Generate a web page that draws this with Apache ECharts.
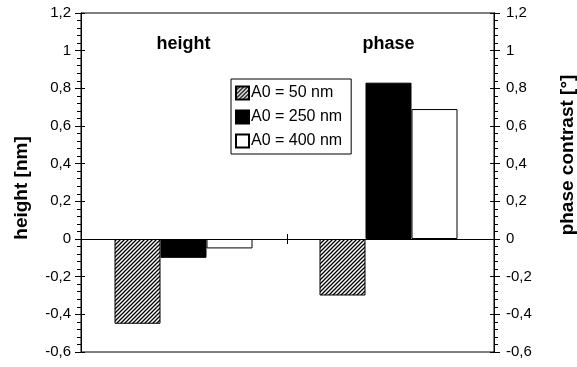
<!DOCTYPE html>
<html>
<head>
<meta charset="utf-8">
<script src="https://cdn.jsdelivr.net/npm/echarts@6/dist/echarts.min.js"></script>
<style>
  html, body { margin: 0; padding: 0; background: #fff; }
  #chart { width: 577px; height: 367px; }
</style>
</head>
<body>
<div id="chart"></div>
<script>
// Measured quantities
const categories = ['height', 'phase'];
const seriesNames = ['A0 = 50 nm', 'A0 = 250 nm', 'A0 = 400 nm'];
const a0_50 = [-0.45, -0.30];
const a0_250 = [-0.10, 0.83];
const a0_400 = [-0.05, 0.69];

const yMin = -0.6, yMax = 1.2, yStep = 0.2, yMinorSplit = 5;
const FONT = '"Liberation Sans", Arial, sans-serif';

// Diagonal hatch tile used for the A0 = 50 nm bars
function hatchPattern() {
  const s = 4;
  const c = document.createElement('canvas');
  c.width = s; c.height = s;
  const g = c.getContext('2d');
  g.fillStyle = '#fff';
  g.fillRect(0, 0, s, s);
  g.strokeStyle = '#000';
  g.lineWidth = 1.3;
  g.beginPath();
  g.moveTo(-1, s + 1); g.lineTo(s + 1, -1);
  g.moveTo(-1, 1); g.lineTo(1, -1);
  g.moveTo(s - 1, s + 1); g.lineTo(s + 1, s - 1);
  g.stroke();
  return { image: c, repeat: 'repeat' };
}

const fmt = v => String(Math.round(v * 10) / 10).replace('.', ',');

// 'main': labels, outward major + minor ticks; 'inner': inward major ticks only
function valueAxis(pos, kind, name) {
  const isMain = kind === 'main';
  return {
    type: 'value',
    gridIndex: 0,
    position: pos,
    min: yMin, max: yMax, interval: yStep,
    name: isMain ? name : '',
    nameLocation: 'middle',
    nameGap: pos === 'left' ? 50 : 64,
    nameTextStyle: {
      fontFamily: FONT, fontSize: 19, fontWeight: 'bold', color: '#000',
      padding: pos === 'left' ? [0, 11, 0, 0] : [0, 0, 0, 55]
    },
    axisLine: { show: true, lineStyle: { color: '#000', width: 1 } },
    axisTick: { show: true, inside: !isMain, length: isMain ? 6 : 4, lineStyle: { color: '#000', width: 1 } },
    minorTick: { show: isMain, splitNumber: yMinorSplit, length: 4, lineStyle: { color: '#000', width: 1 } },
    axisLabel: {
      show: isMain, formatter: fmt,
      margin: pos === 'left' ? 10 : 12,
      fontFamily: FONT, fontSize: 15, color: '#000'
    },
    splitLine: { show: false }
  };
}

function catAxis(grid, pos, zeroIdx, ticks) {
  return {
    type: 'category',
    gridIndex: grid,
    data: categories,
    position: pos,
    boundaryGap: true,
    axisLine: { show: true, onZero: true, onZeroAxisIndex: zeroIdx, lineStyle: { color: '#000', width: 1 } },
    axisTick: { show: ticks, inside: false, length: 5, lineStyle: { color: '#000', width: 1 } },
    axisLabel: { show: false },
    splitLine: { show: false }
  };
}

const chart = echarts.init(document.getElementById('chart'));

const colors = [hatchPattern(), '#000', '#fff'];
const values = [a0_50, a0_250, a0_400];

chart.setOption({
  animation: false,
  grid: [
    // frame, value axes and zero line
    {
      left: 81, right: 83, top: 13, height: 339,
      outerBoundsMode: 'none',
      show: true, borderColor: '#000', borderWidth: 1, backgroundColor: 'transparent'
    },
    // bar groups and category names
    {
      left: 81, right: 86, top: 13, height: 339,
      outerBoundsMode: 'none', show: false
    }
  ],
  legend: {
    orient: 'vertical',
    left: 231, top: 79,
    padding: [6, 9, 5, 4],
    borderColor: '#000', borderWidth: 1,
    itemWidth: 13, itemHeight: 13, itemGap: 8,
    icon: 'rect',
    selectedMode: false,
    data: seriesNames,
    textStyle: { fontFamily: FONT, fontSize: 16, color: '#000', padding: [0, 0, 0, -3] }
  },
  xAxis: [
    catAxis(0, 'bottom', 0, true),
    catAxis(0, 'top', 1, true),
    catAxis(1, 'bottom', 4, false),
    {
      type: 'category',
      gridIndex: 1,
      data: categories,
      position: 'top',
      boundaryGap: true,
      axisLine: { show: false, onZero: false },
      axisTick: { show: false },
      axisLabel: {
        show: true, inside: true, margin: 22,
        fontFamily: FONT, fontSize: 18, fontWeight: 'bold', color: '#000'
      },
      splitLine: { show: false }
    }
  ],
  yAxis: [
    valueAxis('left', 'main', 'height [nm]'),
    valueAxis('left', 'inner'),
    valueAxis('right', 'main', 'phase contrast [°]'),
    valueAxis('right', 'inner'),
    { type: 'value', gridIndex: 1, min: yMin, max: yMax, interval: yStep, show: false }
  ],
  series: seriesNames.map((n, i) => ({
    name: n,
    type: 'bar',
    xAxisIndex: 2,
    yAxisIndex: 4,
    data: values[i],
    barWidth: 46,
    barGap: '0%',
    itemStyle: { color: colors[i], borderColor: '#000', borderWidth: 1 }
  }))
});
</script>
</body>
</html>
